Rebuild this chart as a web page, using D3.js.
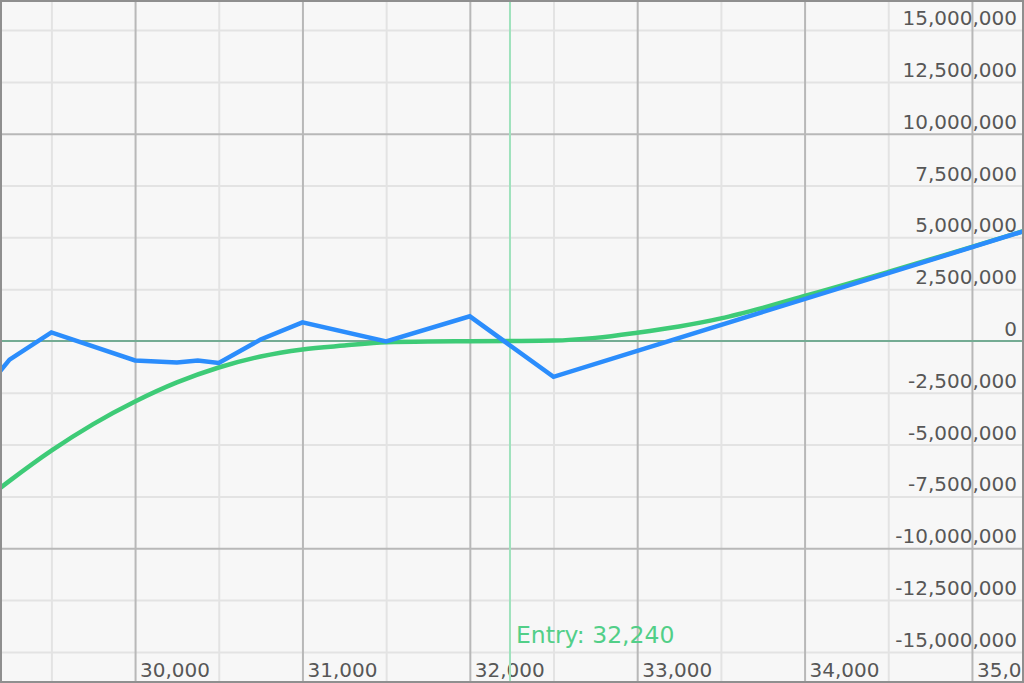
<!DOCTYPE html>
<html><head><meta charset="utf-8">
<script src="https://cdn.jsdelivr.net/npm/d3@7"></script>
<style>html,body{margin:0;padding:0;background:#fff;overflow:hidden}svg{display:block}</style>
</head><body><svg id="c" width="1024" height="683"></svg>
<script>
// ---- data ----
const xDomain = [29193, 35311];
const yDomain = [-16500000, 16450000];
const xMinorTicks = [29500, 30500, 31500, 32500, 33500, 34500];
const xMajorTicks = [30000, 31000, 32000, 33000, 34000, 35000];
const xLabelTicks = [30000, 31000, 32000, 33000, 34000, 35000];
const yMinorTicks = [-15000000, -12500000, -7500000, -5000000, -2500000, 2500000, 5000000, 7500000, 12500000, 15000000];
const yMajorTicks = [-10000000, 10000000];
const yLabelTicks = [-15000000, -12500000, -10000000, -7500000, -5000000, -2500000, 0, 2500000, 5000000, 7500000, 10000000, 12500000, 15000000];
const entryPrice = 32240;
const entryLabel = "Entry: 32,240";

const bluePrices = [29193, 29250, 29500, 30000, 30250, 30375, 30500, 30750, 31000, 31500, 32000, 32500, 35311];
const blueValues = [-1460000, -900000, 410000, -940000, -1040000, -940000, -1060000, 70000, 900000, -20000, 1190000, -1730000, 5300000];

const greenPrices = [29193, 29250, 29500, 29750, 30000, 30250, 30500, 30750, 31000, 31250, 31500, 31750, 32000, 32250, 32500, 32750, 33000, 33250, 33500, 33750, 34000, 34250, 34500, 34750, 35000, 35311];
const greenValues = [-7100000, -6750000, -5290000, -4010000, -2920000, -2000000, -1280000, -750000, -410000, -220000, -60000, -20000, -10000, 0, 20000, 150000, 400000, 700000, 1090000, 1600000, 2170000, 2740000, 3330000, 3930000, 4540000, 5310000];

// ---- drawing ----
const W = 1024, H = 683;
const svg = d3.select("#c");
const x = d3.scaleLinear().domain(xDomain).range([0, W]);
const y = d3.scaleLinear().domain(yDomain).range([H, 0]);
const FONT = "'DejaVu Sans', Verdana, sans-serif";

svg.append("rect").attr("width", W).attr("height", H).attr("fill", "#f7f7f7");

function vGrid(ticks, color) {
  const g = svg.append("g").attr("transform", `translate(0,${H})`)
    .call(d3.axisBottom(x).tickValues(ticks).tickSize(-H).tickFormat(""));
  g.select(".domain").remove();
  g.selectAll("line").attr("stroke", color).attr("stroke-width", 2);
}
function hGrid(ticks, color) {
  const g = svg.append("g")
    .call(d3.axisRight(y).tickValues(ticks).tickSize(W).tickFormat(""));
  g.select(".domain").remove();
  g.selectAll("line").attr("stroke", color).attr("stroke-width", 2);
}
vGrid(xMinorTicks, "#e3e3e3");
hGrid(yMinorTicks, "#e3e3e3");
vGrid(xMajorTicks, "#b8b8b8");
hGrid(yMajorTicks, "#b8b8b8");

// zero line
svg.append("line").attr("x1", 0).attr("x2", W).attr("y1", y(0)).attr("y2", y(0))
  .attr("stroke", "#74ab93").attr("stroke-width", 2);

// y labels
const fmt = d3.format(",");
svg.append("g").selectAll("text").data(yLabelTicks).join("text")
  .attr("x", 1017).attr("y", d => y(d) - 5)
  .attr("text-anchor", "end").attr("font-family", FONT).attr("font-size", 20)
  .attr("fill", "#575757").text(d => fmt(d).replace("−", "-"));

// x labels
svg.append("g").selectAll("text").data(xLabelTicks).join("text")
  .attr("x", d => x(d) + 5).attr("y", 677)
  .attr("font-family", FONT).attr("font-size", 20)
  .attr("fill", "#575757").text(d => fmt(d));

// entry line
svg.append("line").attr("x1", x(entryPrice)).attr("x2", x(entryPrice)).attr("y1", 0).attr("y2", H)
  .attr("stroke", "#9fe2bd").attr("stroke-width", 2);
svg.append("text").attr("x", x(entryPrice) + 6).attr("y", 643)
  .attr("font-family", FONT).attr("font-size", 23.5).attr("fill", "#52cf88").text(entryLabel);

// lines
const line = d3.line().x(d => x(d[0])).y(d => y(d[1]));
svg.append("path").datum(d3.zip(greenPrices, greenValues))
  .attr("d", line.curve(d3.curveMonotoneX)).attr("fill", "none")
  .attr("stroke", "#3ecb77").attr("stroke-width", 4.5).attr("stroke-linejoin", "round");
svg.append("path").datum(d3.zip(bluePrices, blueValues))
  .attr("d", d3.line().x(d => x(d[0])).y(d => y(d[1]))).attr("fill", "none")
  .attr("stroke", "#2b8dfc").attr("stroke-width", 4.5).attr("stroke-linejoin", "miter");

// border
svg.append("rect").attr("x", 1).attr("y", 1).attr("width", W - 2).attr("height", H - 2)
  .attr("fill", "none").attr("stroke", "#8f8f8f").attr("stroke-width", 2);
</script></body></html>
